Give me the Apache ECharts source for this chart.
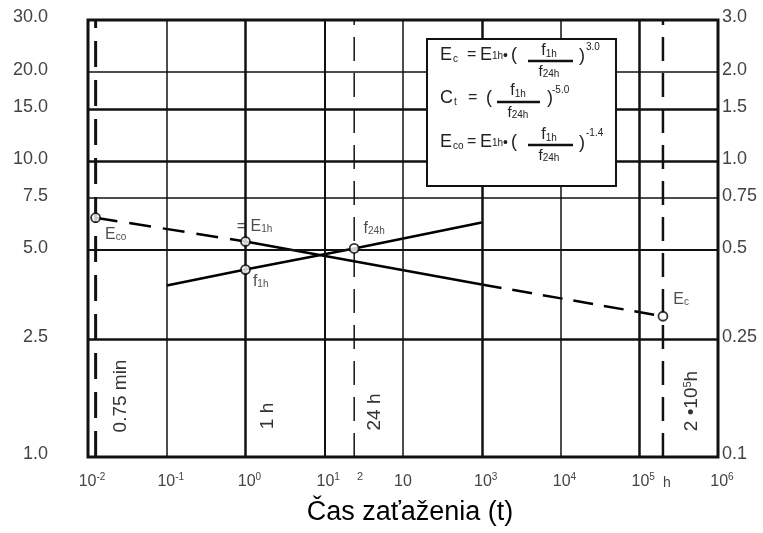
<!DOCTYPE html>
<html>
<head>
<meta charset="utf-8">
<script src="https://cdn.jsdelivr.net/npm/echarts@6/dist/echarts.min.js"></script>
<style>
  html, body { margin: 0; padding: 0; background: #fff; }
  #chart { width: 763px; height: 533px; }
</style>
</head>
<body>
<div id="chart"></div>
<script>
// Load duration in hours and the two curves read on the left scale
const fTimes = [0.1, 1, 24, 1000];
const fValues = [3.80, 4.30, 5.07, 6.20];
const eTimes = [0.0125, 1, 1000, 2e5];
const eValues = [6.44, 5.35, 3.83, 2.99];

// Axis ticks
const leftTicks = [1, 2.5, 5, 7.5, 10, 15, 20, 30];
const leftTickLabels = ['1.0', '2.5', '5.0', '7.5', '10.0', '15.0', '20.0', '30.0'];
const rightTicks = [0.1, 0.25, 0.5, 0.75, 1, 1.5, 2, 3];
const rightTickLabels = ['0.1', '0.25', '0.5', '0.75', '1.0', '1.5', '2.0', '3.0'];
const xTickBases = ['10', '10', '10', '10', '10', '10', '10', '10', '10'];
const xTickExps = ['-2', '-1', '0', '1', '', '3', '4', '5', '6'];

// Grid lines and reference durations (0.75 min, 24 h, 2·10^5 h)
const decadeLines = [0.1, 1, 10, 100, 1000, 1e4, 1e5];
const levelLines = [2.5, 5, 7.5, 10, 15, 20];
const refTimes = [0.0125, 24, 2e5];
const yRange = [1, 30];

const FONT = 'Liberation Sans, Arial, Helvetica, sans-serif';
const heavyX = { 1: 2.5, 1000: 2.5, 100000: 2.5, 10: 2 };
const heavyY = { 2.5: 2.5, 10: 2.5, 15: 2.5, 5: 2 };
const refStyles = [
  { width: 3, type: [26, 13] },
  { width: 1.5, type: [24, 12] },
  { width: 2.5, type: [24, 12] }
];

function nearestLabel(v, ticks, labels) {
  let best = 0, bd = Infinity;
  ticks.forEach((t, i) => {
    const d = Math.abs(Math.log10(t) - v);
    if (d < bd) { bd = d; best = i; }
  });
  return labels[best];
}

const pairs = (xs, ys) => xs.map((x, i) => [x, ys[i]]);
const ePts = pairs(eTimes, eValues);
const fPts = pairs(fTimes, fValues);

const gridLineData = [
  ...decadeLines.map(v => ({ xAxis: v, lineStyle: { color: '#111', width: heavyX[v] || 1.5, type: 'solid' } })),
  ...levelLines.map(v => ({ yAxis: v, lineStyle: { color: '#111', width: heavyY[v] || 1.5, type: 'solid' } }))
];

const refSeries = refTimes.map((t, i) => ({
  name: 'ref' + i, type: 'line', symbol: 'none', z: 2, silent: true,
  data: [[t, yRange[0]], [t, yRange[1]]],
  lineStyle: Object.assign({ color: '#111' }, refStyles[i])
}));

const subRich = {
  m: { fontSize: 16, fontFamily: FONT, color: '#222' },
  s: { fontSize: 10, fontFamily: FONT, color: '#222', verticalAlign: 'bottom' }
};
function pointLabel(text, position, offset) {
  return { show: true, formatter: text, position, offset, rich: subRich, fontFamily: FONT };
}

const markers = [
  { value: ePts[0], label: pointLabel('{m|E}{s|co}', 'right', [-1, 17]) },
  { value: ePts[1], label: pointLabel('{m|= E}{s|1h}', 'top', [9, 3]) },
  { value: fPts[1], label: pointLabel('{m|f}{s|1h}', 'right', [-3, 12]) },
  { value: fPts[2], label: pointLabel('{m|f}{s|24h}', 'right', [-1, -20]) },
  { value: ePts[3], label: pointLabel('{m|E}{s|c}', 'right', [0, -17]) }
];

// Helpers for the formula box and annotations
function txt(x, y, text, size, extra) {
  const el = {
    type: 'text', x, y, z: 101,
    style: {
      text, fontSize: size, fontFamily: FONT, fill: '#222',
      align: 'left', verticalAlign: 'middle'
    }
  };
  if (extra) Object.assign(el.style, extra);
  return el;
}
function bar(x1, x2, y) {
  return { type: 'line', z: 101, shape: { x1, y1: y, x2, y2: y }, style: { stroke: '#111', lineWidth: 2.4 } };
}
const fracRich = { s: { fontSize: 10, fontFamily: FONT, fill: '#222', verticalAlign: 'bottom' } };
function frac(cx, yNum, yLine, yDen, x1, x2) {
  return [
    txt(cx, yNum, 'f{s|1h}', 16, { align: 'center', rich: fracRich }),
    bar(x1, x2, yLine),
    txt(cx, yDen, 'f{s|24h}', 15, { align: 'center', rich: fracRich })
  ];
}

const formulaEls = [
  { type: 'rect', z: 100, shape: { x: 427, y: 39, width: 189, height: 147 },
    style: { fill: '#fff', stroke: '#111', lineWidth: 2 } },
  // E_c
  txt(440, 55, 'E', 18), txt(453, 59, 'c', 10), txt(467, 55, '=', 16),
  txt(480, 55, 'E', 18), txt(492, 56, '1h', 10), txt(503, 56, '•', 14), txt(511, 55, '(', 18),
  ...frac(549, 51, 61, 72, 528, 573),
  txt(579, 56, ')', 18), txt(586, 47, '3.0', 10),
  // C_t
  txt(440, 98, 'C', 18), txt(454, 102, 't', 10), txt(468, 98, '=', 16), txt(486, 98, '(', 18),
  ...frac(518, 91, 102, 113, 497, 540),
  txt(547, 98, ')', 18), txt(552, 90, '-5.0', 10),
  // E_co
  txt(440, 142, 'E', 18), txt(453, 146, 'co', 10), txt(467, 142, '=', 16),
  txt(480, 142, 'E', 18), txt(492, 143, '1h', 10), txt(503, 143, '•', 14), txt(511, 142, '(', 18),
  ...frac(549, 135, 145, 156, 528, 573),
  txt(579, 143, ')', 18), txt(586, 133, '-1.4', 10)
];

const vertRich = { s: { fontSize: 11, fontFamily: FONT, fill: '#333', verticalAlign: 'top' } };
function vtxt(x, y, text) {
  return {
    type: 'text', x, y, rotation: Math.PI / 2, z: 50,
    style: { text, fontSize: 19, fontFamily: FONT, fill: '#333', align: 'center', verticalAlign: 'middle', rich: vertRich }
  };
}
const annotationEls = [
  vtxt(121, 396, '0.75 min'),
  vtxt(268, 416, '1 h'),
  vtxt(375, 412, '24 h'),
  vtxt(692, 401, '2 •10{s|5}h'),
  txt(360, 477, '2', 11, { align: 'center', fill: '#444' }),
  txt(667, 483, 'h', 14, { align: 'center', fill: '#444' })
];

const chart = echarts.init(document.getElementById('chart'), null, { renderer: 'canvas' });
chart.setOption({
  animation: false,
  backgroundColor: '#fff',
  grid: { left: 88, top: 20, width: 630, height: 437, show: true, borderColor: '#111', borderWidth: 3, backgroundColor: 'transparent' },
  xAxis: {
    type: 'log', logBase: 10, min: 0.01, max: 1e6, splitNumber: 8,
    axisLine: { show: false }, axisTick: { show: false }, splitLine: { show: false },
    name: 'Čas zaťaženia (t)', nameLocation: 'middle', nameGap: 42,
    nameTextStyle: { fontSize: 27, fontFamily: FONT, color: '#000', padding: [0, 0, 0, 14] },
    axisLabel: {
      showMinLabel: true, showMaxLabel: true, margin: 15, hideOverlap: false,
      formatter: v => {
        const i = Math.round(Math.log10(v)) + 2;
        const e = xTickExps[i];
        return e ? `{p| }{b|${xTickBases[i]}}{s|${e}}` : `{b|${xTickBases[i]}}`;
      },
      rich: {
        p: { width: 8, fontSize: 16 },
        b: { fontSize: 16, fontFamily: FONT, color: '#444', lineHeight: 20 },
        s: { fontSize: 10, fontFamily: FONT, color: '#444', verticalAlign: 'top' }
      }
    }
  },
  yAxis: [
    { type: 'log', logBase: 10, min: yRange[0], max: yRange[1], show: false },
    {
      type: 'value', min: 0, max: Math.log10(30), position: 'left',
      axisLine: { show: false }, axisTick: { show: false }, splitLine: { show: false },
      axisLabel: {
        customValues: leftTicks.map(Math.log10), margin: 40,
        formatter: v => nearestLabel(v, leftTicks, leftTickLabels),
        fontSize: 18, fontFamily: FONT, color: '#444', verticalAlign: 'bottom', lineHeight: 5
      }
    },
    {
      type: 'value', min: -1, max: Math.log10(3), position: 'right',
      axisLine: { show: false }, axisTick: { show: false }, splitLine: { show: false },
      axisLabel: {
        customValues: rightTicks.map(Math.log10), margin: 4,
        formatter: v => nearestLabel(v, rightTicks, rightTickLabels),
        fontSize: 18, fontFamily: FONT, color: '#444', verticalAlign: 'bottom', lineHeight: 5
      }
    }
  ],
  series: [
    {
      name: 'grid', type: 'line', data: [], z: 1, silent: true,
      markLine: { silent: true, symbol: ['none', 'none'], label: { show: false }, animation: false, data: gridLineData }
    },
    ...refSeries,
    { name: 'f', type: 'line', data: fPts, symbol: 'none', z: 3, lineStyle: { color: '#000', width: 2.5 } },
    { name: 'Eco', type: 'line', data: ePts.slice(0, 2), symbol: 'none', z: 3, lineStyle: { color: '#000', width: 2.5, type: [22, 12] } },
    { name: 'E', type: 'line', data: ePts.slice(1, 3), symbol: 'none', z: 3, lineStyle: { color: '#000', width: 2.5 } },
    { name: 'Ec', type: 'line', data: ePts.slice(2, 4), symbol: 'none', z: 3, lineStyle: { color: '#000', width: 2.5, type: [20, 11] } },
    {
      name: 'points', type: 'scatter', data: markers, z: 5, symbol: 'circle', symbolSize: 9,
      itemStyle: { color: '#fff', borderColor: '#000', borderWidth: 1.8 }
    }
  ],
  graphic: [...formulaEls, ...annotationEls]
});
</script>
</body>
</html>
